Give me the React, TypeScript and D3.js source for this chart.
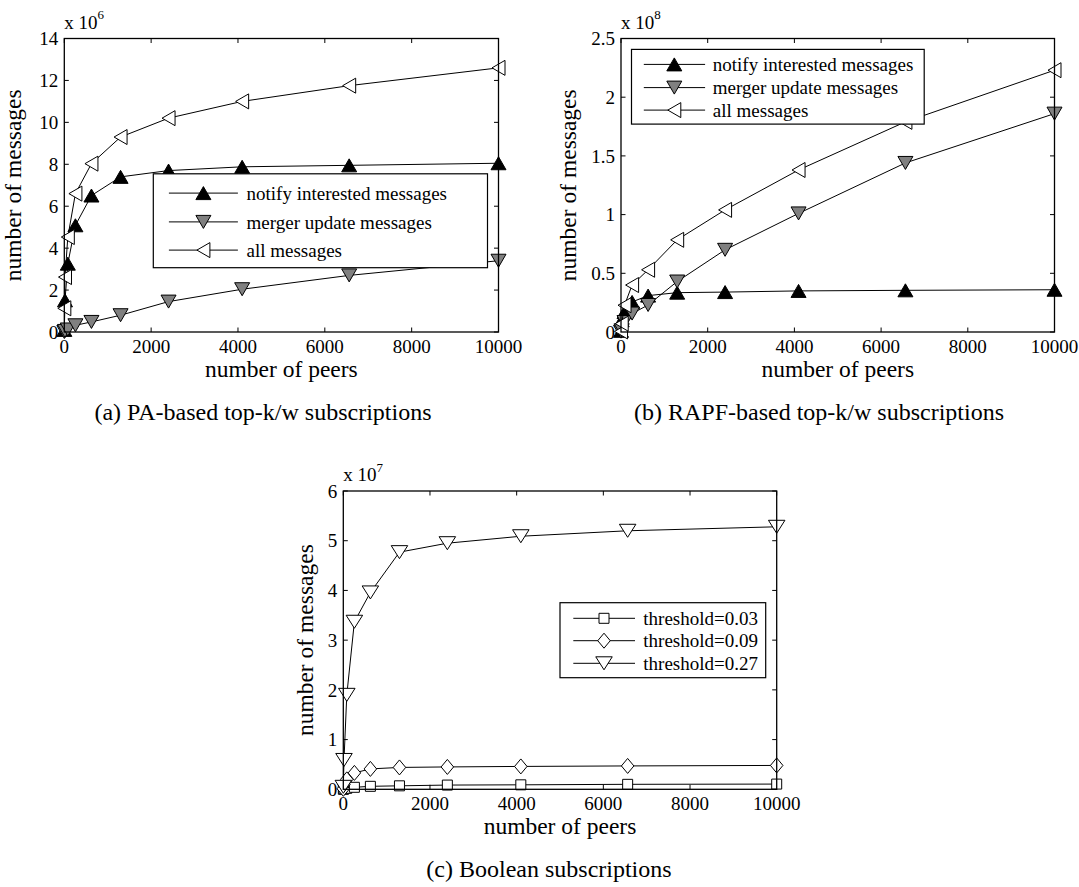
import React, { useEffect } from 'react';
import * as d3 from 'd3';

// ---------- data ----------
const peers = [1, 16, 81, 256, 625, 1296, 2401, 4096, 6561, 10000];
const xTicks = [0, 2000, 4000, 6000, 8000, 10000];

// (a) PA-based, x 10^6
const paNotify = [0.1, 1.51, 3.26, 5.09, 6.51, 7.4, 7.7, 7.88, 7.95, 8.05];
const paMerger = [0.0, 0.05, 0.12, 0.32, 0.48, 0.8, 1.45, 2.04, 2.7, 3.4];
const paAll = [1.13, 2.62, 4.53, 6.6, 8.03, 9.3, 10.2, 11.0, 11.75, 12.6];
const paYTicks = [0, 2, 4, 6, 8, 10, 12, 14];
const paYTickLabels = ['0', '2', '4', '6', '8', '10', '12', '14'];

// (b) RAPF-based, x 10^8
const rapfNotify = [0.01, 0.1, 0.17, 0.256, 0.31, 0.335, 0.34, 0.35, 0.355, 0.36];
const rapfMerger = [0.003, 0.015, 0.085, 0.157, 0.23, 0.43, 0.7, 1.01, 1.44, 1.86];
const rapfAll = [0.005, 0.071, 0.228, 0.4, 0.53, 0.785, 1.04, 1.38, 1.79, 2.23];
const rapfYTicks = [0, 0.5, 1, 1.5, 2, 2.5];
const rapfYTickLabels = ['0', '0.5', '1', '1.5', '2', '2.5'];

// (c) Boolean, x 10^7
const boolT003 = [0.0, 0.01, 0.02, 0.04, 0.06, 0.07, 0.085, 0.09, 0.1, 0.105];
const boolT009 = [0.01, 0.1, 0.2, 0.33, 0.41, 0.44, 0.45, 0.46, 0.47, 0.48];
const boolT027 = [0.05, 0.59, 1.9, 3.37, 3.96, 4.77, 4.95, 5.09, 5.2, 5.28];
const boolYTicks = [0, 1, 2, 3, 4, 5, 6];
const boolYTickLabels = ['0', '1', '2', '3', '4', '5', '6'];

const abLegendNames = ['notify interested messages', 'merger update messages', 'all messages'];
const cLegendNames = ['threshold=0.03', 'threshold=0.09', 'threshold=0.27'];

const FONT = '"Liberation Serif", "Times New Roman", Times, serif';

type MarkerType = 'up' | 'down' | 'left' | 'square' | 'diamond' | 'downBig';

function markerPath(t: MarkerType, cx: number, cy: number): string {
  switch (t) {
    case 'up': {
      const w = 15, h = 13;
      return `M${cx},${cy - h / 2}L${cx + w / 2},${cy + h / 2}L${cx - w / 2},${cy + h / 2}Z`;
    }
    case 'down': {
      const w = 15, h = 13;
      return `M${cx},${cy + h / 2}L${cx + w / 2},${cy - h / 2}L${cx - w / 2},${cy - h / 2}Z`;
    }
    case 'downBig': {
      const w = 16.5, h = 13;
      return `M${cx},${cy + h / 2}L${cx + w / 2},${cy - h / 2}L${cx - w / 2},${cy - h / 2}Z`;
    }
    case 'left': {
      const w = 13, h = 15;
      return `M${cx - w / 2},${cy}L${cx + w / 2},${cy - h / 2}L${cx + w / 2},${cy + h / 2}Z`;
    }
    case 'square': {
      const s = 10;
      return `M${cx - s / 2},${cy - s / 2}h${s}v${s}h${-s}Z`;
    }
    case 'diamond': {
      const w = 12.5, h = 15;
      return `M${cx},${cy - h / 2}L${cx + w / 2},${cy}L${cx},${cy + h / 2}L${cx - w / 2},${cy}Z`;
    }
  }
  return '';
}

interface Series {
  values: number[];
  marker: MarkerType;
  fill: string;
}

interface PanelProps {
  L: number; R: number; T: number; B: number;
  yTicks: number[];
  yTickLabels: string[];
  exponent: string;
  series: Series[];
  legendNames: string[];
  legendBox: { x0: number; x1: number; y0: number; y1: number };
  legendRows: number[];
  legendLine: [number, number];
  legendMarkerX: number;
  legendTextX: number;
  yLabelX: number;
  caption: string;
  captionX: number;
}

function Panel(p: PanelProps) {
  const x = d3.scaleLinear().domain([0, 10000]).range([p.L, p.R]);
  const y = d3.scaleLinear().domain([0, p.yTicks[p.yTicks.length - 1]]).range([p.B, p.T]);
  const line = d3.line<number>().x((_, i) => x(peers[i])).y((d) => y(d));
  const tick = 4.5;
  return (
    <g fontFamily={FONT} fill="#000">
      {xTicks.map((t) => (
        <g key={'xt' + t}>
          <line x1={x(t)} x2={x(t)} y1={p.B} y2={p.B - tick} stroke="#000" strokeWidth={1} />
          <line x1={x(t)} x2={x(t)} y1={p.T} y2={p.T + tick} stroke="#000" strokeWidth={1} />
          <text x={x(t)} y={p.B + 21} fontSize={19} textAnchor="middle">{t}</text>
        </g>
      ))}
      {p.yTicks.map((t, i) => (
        <g key={'yt' + t}>
          <line x1={p.L} x2={p.L + tick} y1={y(t)} y2={y(t)} stroke="#000" strokeWidth={1} />
          <line x1={p.R} x2={p.R - tick} y1={y(t)} y2={y(t)} stroke="#000" strokeWidth={1} />
          <text x={p.L - 6} y={y(t)} dy="0.35em" fontSize={19} textAnchor="end">{p.yTickLabels[i]}</text>
        </g>
      ))}
      <text x={p.L} y={p.T - 10} fontSize={19}>
        x 10
        <tspan dy={-9.5} fontSize={13}>{p.exponent}</tspan>
      </text>
      {p.series.map((s, si) => (
        <g key={'s' + si}>
          <path d={line(s.values) || ''} fill="none" stroke="#000" strokeWidth={1} />
          {s.values.map((v, i) => (
            <path key={i} d={markerPath(s.marker, x(peers[i]), y(v))} fill={s.fill} stroke="#000" strokeWidth={1} />
          ))}
        </g>
      ))}
      <rect x={p.L} y={p.T} width={p.R - p.L} height={p.B - p.T} fill="none" stroke="#000" strokeWidth={1.3} />
      <rect x={p.legendBox.x0} y={p.legendBox.y0} width={p.legendBox.x1 - p.legendBox.x0} height={p.legendBox.y1 - p.legendBox.y0} fill="#fff" stroke="#000" strokeWidth={1.2} />
      {p.series.map((s, si) => (
        <g key={'lg' + si}>
          <line x1={p.legendLine[0]} x2={p.legendLine[1]} y1={p.legendRows[si]} y2={p.legendRows[si]} stroke="#000" strokeWidth={1} />
          <path d={markerPath(s.marker, p.legendMarkerX, p.legendRows[si])} fill={s.fill} stroke="#000" strokeWidth={1} />
          <text x={p.legendTextX} y={p.legendRows[si]} dy="0.35em" fontSize={19}>{p.legendNames[si]}</text>
        </g>
      ))}
      <text x={(p.L + p.R) / 2} y={p.B + 45} fontSize={23.5} textAnchor="middle">number of peers</text>
      <text transform={`translate(${p.yLabelX},${(p.T + p.B) / 2}) rotate(-90)`} fontSize={23.5} textAnchor="middle">number of messages</text>
      <text x={p.captionX} y={p.B + 87.5} fontSize={24} textAnchor="middle">{p.caption}</text>
    </g>
  );
}

export default function App() {
  useEffect(() => {
    document.body.style.margin = '0';
    document.body.style.background = '#fff';
  }, []);
  const aL = 64.3, aR = 498.5, aT = 38.5, aB = 332;
  const bL = 621, bR = 1054.5, bT = 38.5, bB = 332;
  const cL = 343.3, cR = 776.7, cT = 491, cB = 789.3;
  return (
    <svg width={1079} height={887} style={{ position: 'absolute', left: 0, top: 0, background: '#fff' }}>
      <rect x={0} y={0} width={1079} height={887} fill="#fff" />
      <Panel
        L={aL} R={aR} T={aT} B={aB}
        yTicks={paYTicks} yTickLabels={paYTickLabels} exponent="6"
        series={[
          { values: paNotify, marker: 'up', fill: '#000' },
          { values: paMerger, marker: 'down', fill: '#808080' },
          { values: paAll, marker: 'left', fill: '#fff' },
        ]}
        legendNames={abLegendNames}
        legendBox={{ x0: 153.3, x1: 487.5, y0: 173.8, y1: 267.7 }}
        legendRows={[193.1, 221.9, 250.1]}
        legendLine={[168.9, 237.9]}
        legendMarkerX={203.4}
        legendTextX={246.5}
        yLabelX={21}
        caption="(a) PA-based top-k/w subscriptions"
        captionX={263}
      />
      <Panel
        L={bL} R={bR} T={bT} B={bB}
        yTicks={rapfYTicks} yTickLabels={rapfYTickLabels} exponent="8"
        series={[
          { values: rapfNotify, marker: 'up', fill: '#000' },
          { values: rapfMerger, marker: 'down', fill: '#808080' },
          { values: rapfAll, marker: 'left', fill: '#fff' },
        ]}
        legendNames={abLegendNames}
        legendBox={{ x0: 631.5, x1: 924.2, y0: 49.4, y1: 124.1 }}
        legendRows={[64.4, 87.6, 110.1]}
        legendLine={[643.8, 705.1]}
        legendMarkerX={674.3}
        legendTextX={712.8}
        yLabelX={575.5}
        caption="(b) RAPF-based top-k/w subscriptions"
        captionX={819}
      />
      <Panel
        L={cL} R={cR} T={cT} B={cB}
        yTicks={boolYTicks} yTickLabels={boolYTickLabels} exponent="7"
        series={[
          { values: boolT003, marker: 'square', fill: '#fff' },
          { values: boolT009, marker: 'diamond', fill: '#fff' },
          { values: boolT027, marker: 'downBig', fill: '#fff' },
        ]}
        legendNames={cLegendNames}
        legendBox={{ x0: 560, x1: 765.7, y0: 602.7, y1: 677.7 }}
        legendRows={[618.3, 640.7, 663.3]}
        legendLine={[573.3, 635]}
        legendMarkerX={604}
        legendTextX={643.3}
        yLabelX={313}
        caption="(c) Boolean subscriptions"
        captionX={549}
      />
    </svg>
  );
}
